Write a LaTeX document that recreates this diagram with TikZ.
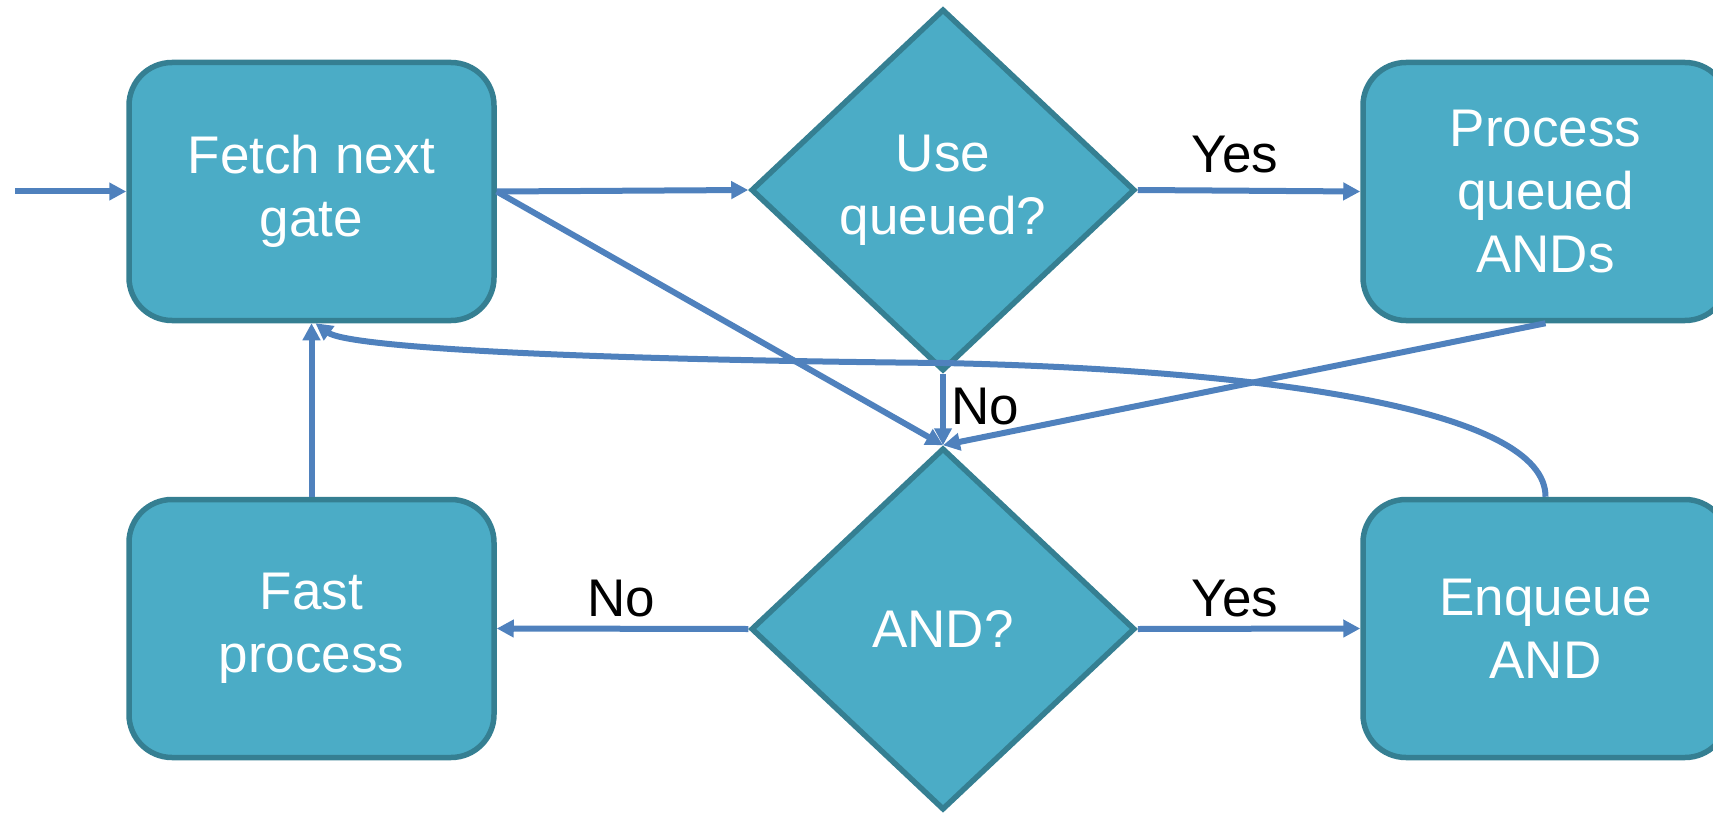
\documentclass[tikz,border=0pt]{standalone}
\usepackage{fontspec}
\setmainfont{Liberation Sans}
\usetikzlibrary{shapes.geometric,arrows.meta}
\definecolor{boxfill}{HTML}{4BACC6}
\definecolor{boxline}{HTML}{357F92}
\definecolor{flowblue}{HTML}{4F81BD}
\begin{document}
\begin{tikzpicture}[x=1pt,y=-1pt,
  every node/.style={font=\fontsize{53}{63}\selectfont},
  stepbox/.style={draw=boxline, fill=boxfill, line width=5.5pt, rounded corners=43pt,
    minimum width=365pt, minimum height=258pt, text=white, align=center, inner sep=0pt},
  decision/.style={diamond, draw=boxline, fill=boxfill, line width=5.5pt,
    minimum width=384pt, minimum height=362pt, text=white, align=center, inner sep=0pt},
  flow/.style={draw=flowblue, line width=6pt, -{Triangle[length=17pt,width=17pt]}},
  lbl/.style={text=black, inner sep=0pt}]
\useasboundingbox (0,0) rectangle (1713,813);

% process steps
\node[stepbox] (fetch) at (311.5,191.5) {Fetch next\\gate};
\node[stepbox] (proc)  at (1545.5,191.5) {Process\\queued\\ANDs};
\node[stepbox] (fast)  at (311.5,628.5) {Fast\\process};
\node[stepbox] (enq)   at (1545.5,628.5) {Enqueue\\AND};

% decisions
\node[decision] (d1) at (943,190) {Use\\queued?};
\node[decision] (d2) at (943,629) {AND?};

\coordinate (in) at (15,191.5);

% connectors
\draw[flow] (in) -- (fetch.west);
\draw[flow] (fetch.east) -- (d1.west);
\draw[flow] (d1.east) -- (proc.west);
\draw[flow] (fetch.east) -- (d2.north);
\draw[flow] (d1.south) -- (d2.north);
\draw[flow] (proc.south) -- (d2.north);
\draw[flow] (enq.north) .. controls (1546,410) and (1270,370) .. (943,363)
                        .. controls (520,359) and (345,345) .. ([xshift=4pt]fetch.south);
\draw[flow] (fast.north) -- (fetch.south);
\draw[flow] (d2.west) -- (fast.east);
\draw[flow] (d2.east) -- (enq.west);

% branch labels
\node[lbl] (yes1) at (1235,155) {Yes};
\node[lbl] (no1)  at (985,407) {No};
\node[lbl] (no2)  at (621,599) {No};
\node[lbl] (yes2) at (1235,599) {Yes};
\end{tikzpicture}
\end{document}
